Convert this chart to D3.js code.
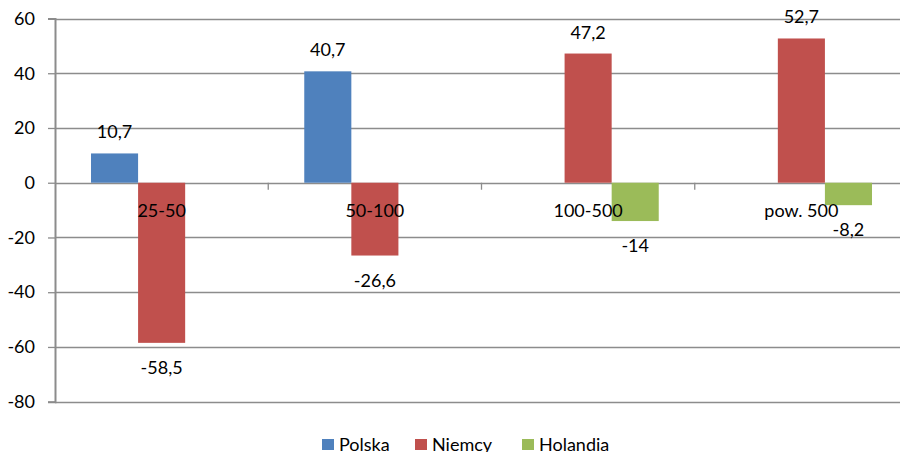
<!DOCTYPE html>
<html>
<head>
<meta charset="utf-8">
<script src="https://cdn.jsdelivr.net/npm/d3@7"></script>
<style>
  body { margin: 0; background: #fff; }
  text { font-family: Lato, "Open Sans", sans-serif; fill: #000; }
</style>
</head>
<body>
<div id="chart-container"></div>
<script>
// chart data
const categories = ["25-50", "50-100", "100-500", "pow. 500"];
const seriesNames = ["Polska", "Niemcy", "Holandia"];
const polska = [10.7, 40.7, null, null];
const niemcy = [-58.5, -26.6, 47.2, 52.7];
const holandia = [null, null, -14, -8.2];
const yTicks = [60, 40, 20, 0, -20, -40, -60, -80];

const colors = ["#4F81BD", "#C0504D", "#9BBB59"];
const allSeries = [polska, niemcy, holandia];

const svgWidth = 900;
const svgHeight = 452;
const margin = { top: 18.5, left: 55, right: -8, bottom: 50 };

const svg = d3.select("#chart-container")
    .append("svg")
    .attr("width", svgWidth)
    .attr("height", svgHeight);

const y = d3.scaleLinear()
    .domain([-80, 60])
    .range([401.7, margin.top]);

const x = d3.scaleBand()
    .domain(categories)
    .range([margin.left, svgWidth - margin.right]);

const x1 = d3.scaleBand()
    .domain(seriesNames)
    .range([0, x.bandwidth()])
    .paddingOuter(0.765);

// gridlines
svg.append("g")
    .selectAll("line")
    .data(yTicks)
    .enter()
    .append("line")
    .attr("x1", margin.left)
    .attr("x2", svgWidth)
    .attr("y1", d => Math.round(y(d)) + 0.5)
    .attr("y2", d => Math.round(y(d)) + 0.5)
    .attr("stroke", "#8c8c8c")
    .attr("stroke-width", 1.3);

// y axis
const yAxis = svg.append("g")
    .attr("transform", `translate(${margin.left},0)`)
    .call(d3.axisLeft(y).tickValues(yTicks).tickSize(7).tickPadding(13).tickFormat(d => d));
yAxis.select(".domain").attr("stroke", "#8c8c8c").attr("stroke-width", 2);
yAxis.selectAll(".tick line").attr("stroke", "#8c8c8c").attr("stroke-width", 1.3);
yAxis.selectAll(".tick text")
    .style("font-family", "Lato, 'Open Sans', sans-serif")
    .style("font-size", "18px")
    .attr("fill", "#000");

// category ticks on zero line
svg.append("g")
    .selectAll("line")
    .data(categories.slice(1))
    .enter()
    .append("line")
    .attr("x1", d => x(d))
    .attr("x2", d => x(d))
    .attr("y1", y(0))
    .attr("y2", y(0) + 7)
    .attr("stroke", "#8c8c8c")
    .attr("stroke-width", 1.3);

// bars
allSeries.forEach(function (values, si) {
    const g = svg.append("g");
    const pts = categories.map((c, i) => ({ c: c, v: values[i] })).filter(d => d.v !== null);
    g.selectAll("rect")
        .data(pts)
        .enter()
        .append("rect")
        .attr("x", d => x(d.c) + x1(seriesNames[si]))
        .attr("width", x1.bandwidth())
        .attr("y", d => y(Math.max(0, d.v)))
        .attr("height", d => Math.abs(y(d.v) - y(0)))
        .attr("fill", colors[si]);

    g.selectAll("text")
        .data(pts)
        .enter()
        .append("text")
        .attr("x", d => x(d.c) + x1(seriesNames[si]) + x1.bandwidth() / 2)
        .attr("y", d => d.v >= 0 ? y(d.v) - 15 : y(d.v) + 31)
        .attr("text-anchor", "middle")
        .style("font-size", "18px")
        .text(d => String(d.v).replace(".", ","));
});

// category labels (drawn over the bars)
svg.append("g")
    .selectAll("text")
    .data(categories)
    .enter()
    .append("text")
    .attr("x", d => x(d) + x.bandwidth() / 2)
    .attr("y", y(0) + 34)
    .attr("text-anchor", "middle")
    .style("font-size", "18px")
    .text(d => d);

// legend
const legendX = [322, 415, 522];
const legend = svg.append("g");
seriesNames.forEach(function (name, i) {
    legend.append("rect")
        .attr("x", legendX[i])
        .attr("y", 439)
        .attr("width", 12)
        .attr("height", 11)
        .attr("fill", colors[i]);
    legend.append("text")
        .attr("x", legendX[i] + 17)
        .attr("y", 451)
        .style("font-size", "18px")
        .text(name);
});
</script>
</body>
</html>
